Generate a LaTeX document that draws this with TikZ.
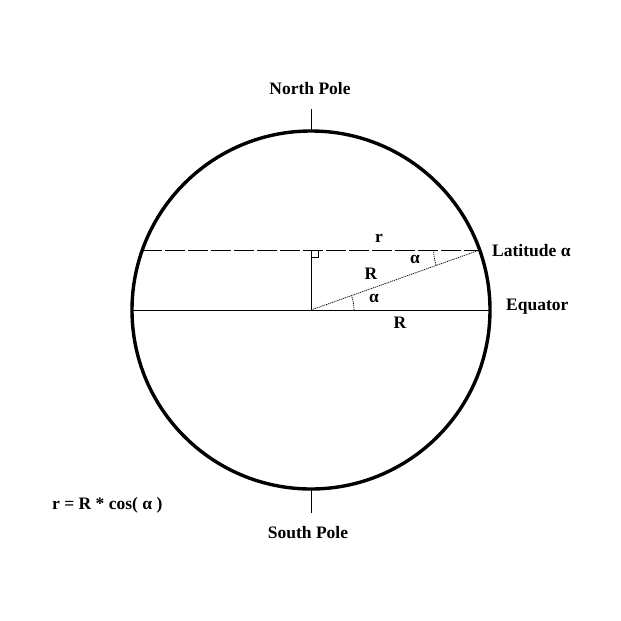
\documentclass[tikz,border=0pt]{standalone}
\usepackage{fontspec}
\setmainfont{Liberation Serif}
\usetikzlibrary{calc}
\begin{document}
\begin{tikzpicture}[x=1pt,y=-1pt]
\tikzstyle{text node}=[inner sep=0,font=\fontsize{17.5}{20}\selectfont\bfseries]
\tikzset{
	globe line/.style={line width=3.4pt},
	thin line/.style={line width=0.8pt},
	dot line/.style={line width=0.7pt,dash pattern=on 1.2pt off 0.8pt}
}
\useasboundingbox (0,0) rectangle (621,621);
% globe
\coordinate (O) at (311,310);
\draw[globe line] (O) circle (179);
\coordinate (W) at (132,310);
\coordinate (E) at (490,310);
\coordinate (F) at (311,250);
\coordinate (L) at (479.6,250);
\coordinate (LW) at (142.4,250);
\coordinate (NP) at (311,131);
\coordinate (NT) at (311,109);
\coordinate (SP) at (311,489);
\coordinate (ST) at (311,513);
% lines
\draw[thin line] (W) -- (E);
\draw[thin line,dash pattern=on 20pt off 3pt] (LW) -- (L);
\draw[thin line] (O) -- (F);
\draw[thin line] ($(F)+(0,7)$) -- ++(7,0) -- ++(0,-7);
\draw[dot line] (O) -- (L);
\draw[thin line] (NP) -- (NT);
\draw[thin line] (SP) -- (ST);
% angles
\draw[dot line] ($(O)+(43,0)$) arc[start angle=0,end angle=-19.6,radius=43];
\draw[dot line] ($(L)+(-46,0)$) arc[start angle=180,end angle=160.4,radius=46];
% labels
\node[text node] (north) at (310,89) {North Pole};
\node[text node] (south) at (308,533) {South Pole};
\node[text node,anchor=west] (lat) at (492,251) {Latitude α};
\node[text node,anchor=west] (equ) at (506,307) {Equator};
\node[text node] (r) at (379,238) {r};
\node[text node] (a1) at (415,259) {α};
\node[text node] (R1) at (371,274) {R};
\node[text node] (a2) at (374,298) {α};
\node[text node] (R2) at (400,323) {R};
\node[text node,anchor=west] (formula) at (52,505) {r = R * cos( α )};
\end{tikzpicture}
\end{document}
